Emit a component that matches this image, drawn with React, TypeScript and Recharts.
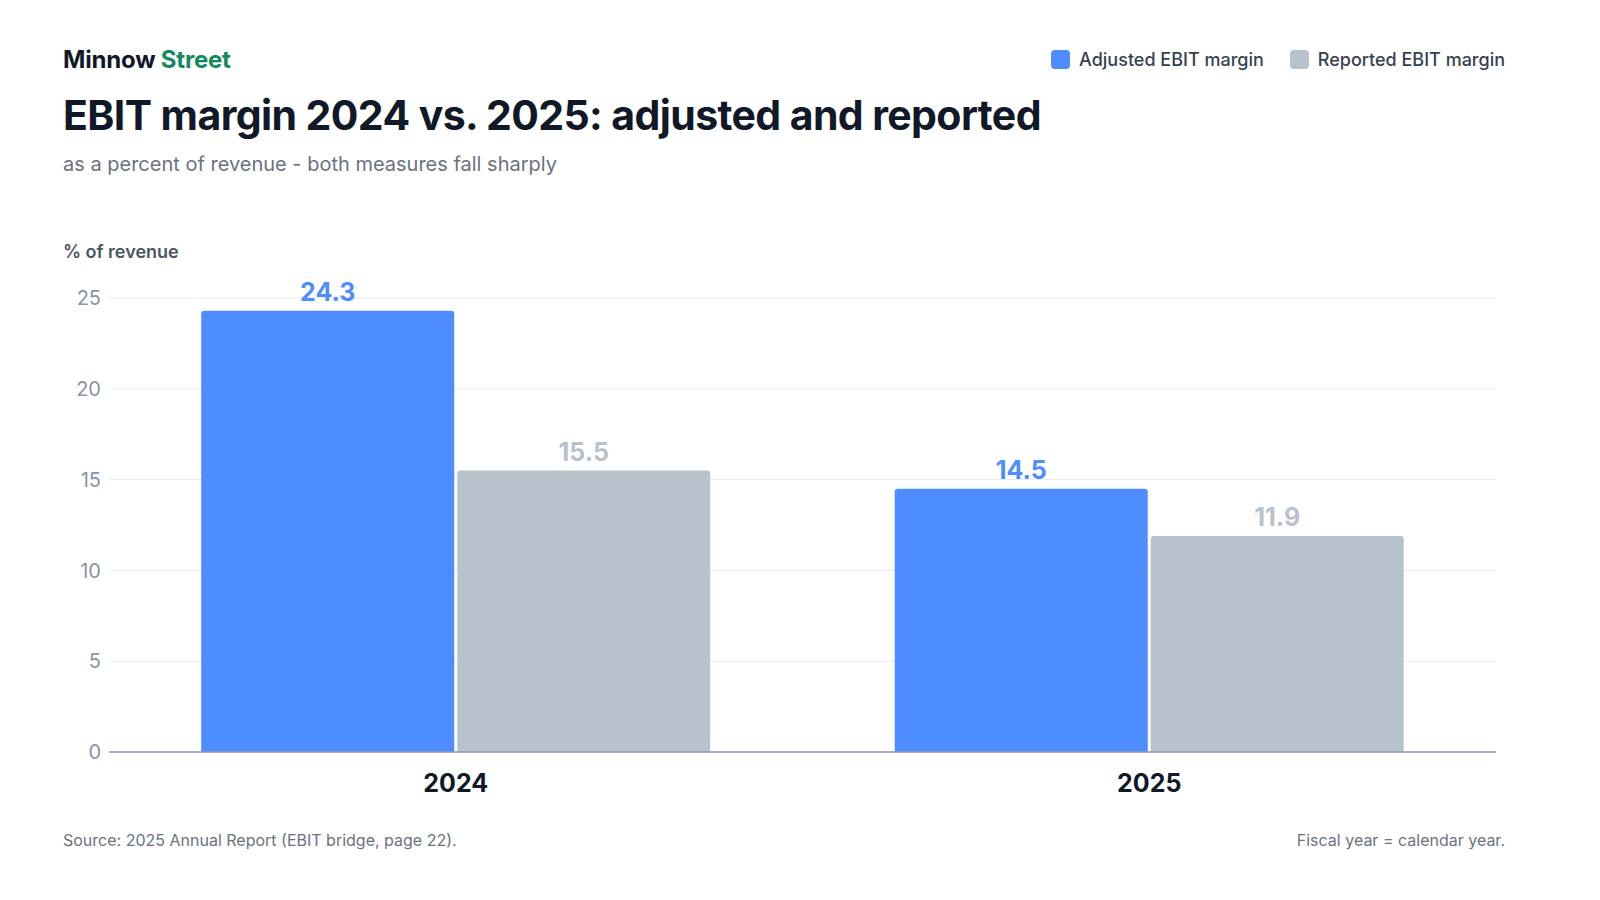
import { BarChart, Bar, XAxis, YAxis, CartesianGrid, LabelList } from 'recharts';

const years = ['2024', '2025'];
const adjusted = [24.3, 14.5];
const reported = [15.5, 11.9];
const yTicks = [0, 5, 10, 15, 20, 25];

const BLUE = '#4d8dff';
const GREY = '#b8c2cc';
const FONT = 'Inter, "Noto Sans", sans-serif';

const data = years.map((year, i) => ({ year, adjusted: adjusted[i], reported: reported[i] }));

const App = () => {
  return (
    <div style={{ position: 'absolute', left: 0, top: 0, width: 1600, height: 900, background: '#fff', fontFamily: FONT, color: '#111827' }}>
      <div style={{ position: 'absolute', left: 63, top: 45, fontSize: 24, fontWeight: 700, letterSpacing: -0.2 }}>
        Minnow <span style={{ color: '#138a5e' }}>Street</span>
      </div>
      <div style={{ position: 'absolute', left: 63, top: 90, fontSize: 41, fontWeight: 700, letterSpacing: -0.6 }}>
        EBIT margin 2024 vs. 2025: adjusted and reported
      </div>
      <div style={{ position: 'absolute', left: 63, top: 152, fontSize: 20, color: '#6b7280' }}>
        as a percent of revenue - both measures fall sharply
      </div>
      <div style={{ position: 'absolute', left: 63, top: 241, fontSize: 18, fontWeight: 600, color: '#4b5563' }}>
        % of revenue
      </div>
      <div style={{ position: 'absolute', right: 95, top: 49, display: 'flex', gap: 26, fontSize: 18, fontWeight: 500, color: '#374151' }}>
        {[['Adjusted EBIT margin', BLUE], ['Reported EBIT margin', GREY]].map(([t, c]) => (
          <div key={t} style={{ display: 'flex', alignItems: 'center', gap: 9 }}>
            <span style={{ width: 19, height: 19, borderRadius: 4, background: c, display: 'inline-block' }} />
            {t}
          </div>
        ))}
      </div>
      <div style={{ position: 'absolute', left: 63, top: 830, fontSize: 16, color: '#6b7280' }}>
        Source: 2025 Annual Report (EBIT bridge, page 22).
      </div>
      <div style={{ position: 'absolute', right: 95, top: 830, fontSize: 16, color: '#6b7280' }}>
        Fiscal year = calendar year.
      </div>
      <div style={{ position: 'absolute', left: 0, top: 0 }}>
        <BarChart
          width={1600}
          height={900}
          data={data}
          margin={{ top: 298, right: 104, bottom: 0, left: 49 }}
          barCategoryGap="13.3%"
          barGap={3}
        >
          <CartesianGrid vertical={false} stroke="#e8ebef" />
          <YAxis
            width={60}
            domain={[0, 25]}
            ticks={yTicks}
            axisLine={false}
            tickLine={false}
            tick={{ fill: '#8a94a6', fontSize: 20, fontFamily: FONT }}
          />
          <XAxis
            dataKey="year"
            height={148}
            axisLine={{ stroke: '#8e99b0', strokeWidth: 1.5 }}
            tickLine={false}
            tick={{ fill: '#111827', fontSize: 25, fontWeight: 700, fontFamily: FONT, dy: 14 }}
          />
          <Bar dataKey="adjusted" fill={BLUE} radius={[3, 3, 0, 0]} isAnimationActive={false}>
            <LabelList dataKey="adjusted" position="top" offset={10} fill={BLUE} fontSize={25} fontWeight={700} fontFamily={FONT} />
          </Bar>
          <Bar dataKey="reported" fill={GREY} radius={[3, 3, 0, 0]} isAnimationActive={false}>
            <LabelList dataKey="reported" position="top" offset={10} fill={GREY} fontSize={25} fontWeight={700} fontFamily={FONT} />
          </Bar>
        </BarChart>
      </div>
    </div>
  );
};

export default App;
